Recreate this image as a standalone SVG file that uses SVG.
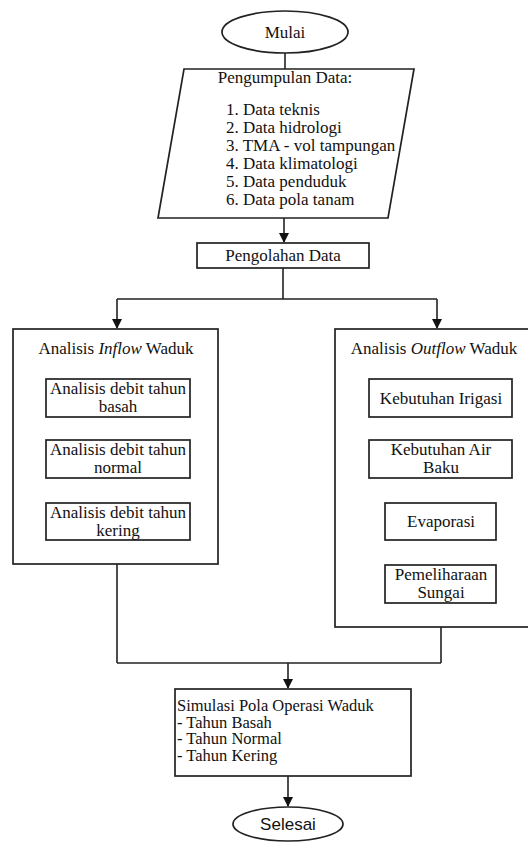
<svg xmlns="http://www.w3.org/2000/svg" width="528" height="842" viewBox="0 0 528 842">
<defs>
<style>
.s{fill:#fff;stroke:#222;stroke-width:1.7}
.c{fill:none;stroke:#222;stroke-width:1.6}
.t{font-family:"Liberation Serif","Times New Roman",serif;font-size:17px;fill:#111}
.sm{font-size:16.5px}
.m{text-anchor:middle}
.a{font-family:"Liberation Sans",Arial,sans-serif;font-size:17px;fill:#111}
</style>
<marker id="ah" markerWidth="10" markerHeight="10" refX="9" refY="5" orient="auto" markerUnits="userSpaceOnUse">
<path d="M0,0 L10,5 L0,10 z" fill="#111"/>
</marker>
</defs>
<rect width="528" height="842" fill="#fff"/>
<g id="connectors">
<path class="c" d="M285,53 V69"/>
<path class="c" d="M284,218 V242" marker-end="url(#ah)"/>
<path class="c" d="M283,268 V299 M117,299 H437"/>
<path class="c" d="M117,299 V328" marker-end="url(#ah)"/>
<path class="c" d="M437,299 V328" marker-end="url(#ah)"/>
<path class="c" d="M118,417 V440 M118,478 V503 M117,540 V663"/>
<path class="c" d="M441,417 V440 M441,478 V503 M441,540 V565 M441,603 V663"/>
<path class="c" d="M117,663 H441"/>
<path class="c" d="M288,663 V688" marker-end="url(#ah)"/>
<path class="c" d="M288,776 V806" marker-end="url(#ah)"/>
</g>
<g id="mulai">
<ellipse class="s" cx="285" cy="32" rx="63" ry="21"/>
<text class="t m" x="285" y="38">Mulai</text>
</g>
<g id="pengumpulan">
<path class="s" d="M184,69 H414 L388,218 H158 Z"/>
<text class="t m" x="285" y="83">Pengumpulan Data:</text>
<text class="t" x="226" y="115">1. Data teknis</text>
<text class="t" x="226" y="133">2. Data hidrologi</text>
<text class="t" x="226" y="151">3. TMA - vol tampungan</text>
<text class="t" x="226" y="169">4. Data klimatologi</text>
<text class="t" x="226" y="187">5. Data penduduk</text>
<text class="t" x="226" y="205">6. Data pola tanam</text>
</g>
<g id="pengolahan">
<rect class="s" x="197" y="243" width="172" height="25"/>
<text class="t m" x="283" y="261">Pengolahan Data</text>
</g>
<g id="inflow">
<rect class="s" x="13" y="329" width="205" height="235"/>
<text class="t m" x="116" y="354">Analisis <tspan font-style="italic">Inflow</tspan> Waduk</text>
</g>
<g id="outflow">
<rect class="s" x="335" y="329" width="210" height="298"/>
<text class="t m" x="434" y="354">Analisis <tspan font-style="italic">Outflow</tspan> Waduk</text>
</g>
<g id="basah">
<rect class="s" x="46" y="379" width="144" height="38"/>
<text class="t m" x="118" y="394">Analisis debit tahun</text>
<text class="t m" x="118" y="412">basah</text>
</g>
<g id="normal">
<rect class="s" x="46" y="440" width="144" height="38"/>
<text class="t m" x="118" y="455">Analisis debit tahun</text>
<text class="t m" x="118" y="473">normal</text>
</g>
<g id="kering">
<rect class="s" x="46" y="503" width="144" height="37"/>
<text class="t m" x="118" y="518">Analisis debit tahun</text>
<text class="t m" x="118" y="536">kering</text>
</g>
<g id="irigasi">
<rect class="s" x="369" y="379" width="143" height="38"/>
<text class="t m" x="441" y="404">Kebutuhan Irigasi</text>
</g>
<g id="airbaku">
<rect class="s" x="369" y="440" width="143" height="38"/>
<text class="t m" x="441" y="455">Kebutuhan Air</text>
<text class="t m" x="441" y="473">Baku</text>
</g>
<g id="evaporasi">
<rect class="s" x="385" y="503" width="111" height="37"/>
<text class="t m" x="441" y="527">Evaporasi</text>
</g>
<g id="pemeliharaan">
<rect class="s" x="385" y="565" width="111" height="38"/>
<text class="t m" x="441" y="580">Pemeliharaan</text>
<text class="t m" x="441" y="598">Sungai</text>
</g>
<g id="simulasi">
<rect class="s" x="175" y="689" width="236" height="87"/>
<text class="t sm" x="177" y="711">Simulasi Pola Operasi Waduk</text>
<text class="t sm" x="177" y="727.5">- Tahun Basah</text>
<text class="t sm" x="177" y="744">- Tahun Normal</text>
<text class="t sm" x="177" y="760.5">- Tahun Kering</text>
</g>
<g id="selesai">
<ellipse class="s" cx="288" cy="824" rx="55" ry="17"/>
<text class="a m" x="288" y="830">Selesai</text>
</g>
</svg>
